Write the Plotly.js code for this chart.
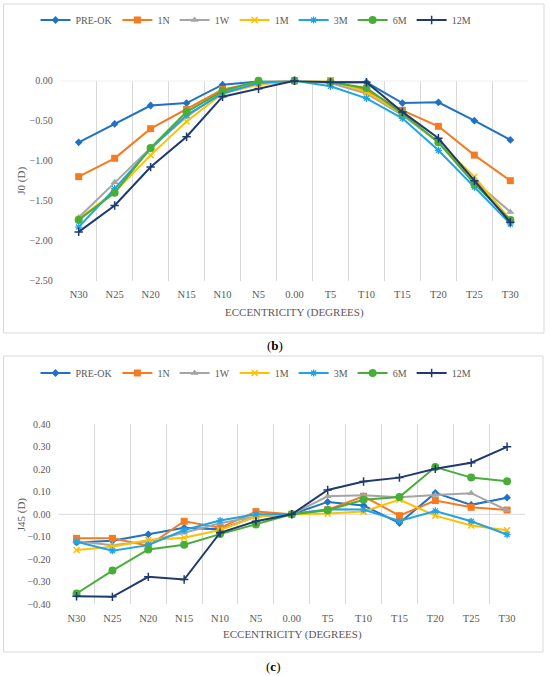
<!DOCTYPE html>
<html>
<head>
<meta charset="utf-8">
<script src="https://cdn.plot.ly/plotly-3.0.1.min.js"></script>
<style>html,body{margin:0;padding:0;background:#fff;}#chart{width:550px;height:676px;}</style>
</head>
<body>
<div id="chart"></div>
<script>
// ---- data ----
const categories = ['N30','N25','N20','N15','N10','N5','0.00','T5','T10','T15','T20','T25','T30'];
const seriesNames = ['PRE-OK','1N','1W','1M','3M','6M','12M'];

// J0 (D)
const j0_preok = [-0.77,-0.54,-0.31,-0.28,-0.05,-0.01,0,-0.02,-0.02,-0.28,-0.27,-0.50,-0.74];
const j0_1n    = [-1.20,-0.97,-0.60,-0.36,-0.11,-0.02,0,0.00,-0.12,-0.37,-0.57,-0.93,-1.25];
const j0_1w    = [-1.71,-1.27,-0.84,-0.45,-0.14,-0.04,0,-0.03,-0.16,-0.43,-0.77,-1.25,-1.64];
const j0_1m    = [-1.73,-1.39,-0.93,-0.51,-0.16,-0.05,0,0.00,-0.14,-0.41,-0.77,-1.20,-1.74];
const j0_3m    = [-1.83,-1.35,-0.85,-0.43,-0.16,-0.03,0,-0.07,-0.22,-0.47,-0.87,-1.33,-1.79];
const j0_6m    = [-1.74,-1.40,-0.84,-0.39,-0.13,0.00,0,-0.02,-0.09,-0.41,-0.77,-1.29,-1.74];
const j0_12m   = [-1.89,-1.56,-1.08,-0.70,-0.20,-0.10,0,-0.02,-0.02,-0.39,-0.72,-1.25,-1.77];

// J45 (D)
const j45_preok = [-0.125,-0.118,-0.089,-0.060,-0.067,-0.010,0,0.055,0.039,-0.039,0.095,0.042,0.074];
const j45_1n    = [-0.107,-0.107,-0.140,-0.031,-0.060,0.012,0,0.020,0.080,-0.006,0.061,0.031,0.019];
const j45_1w    = [-0.120,-0.137,-0.120,-0.082,-0.040,-0.010,0,0.080,0.085,0.076,0.086,0.094,0.018];
const j45_1m    = [-0.159,-0.144,-0.114,-0.104,-0.070,-0.010,0,0.003,0.012,0.065,-0.006,-0.050,-0.071];
const j45_3m    = [-0.122,-0.162,-0.137,-0.070,-0.028,0.000,0,0.022,0.021,-0.030,0.015,-0.031,-0.090];
const j45_6m    = [-0.352,-0.250,-0.156,-0.135,-0.088,-0.045,0,0.018,0.065,0.077,0.210,0.163,0.147];
const j45_12m   = [-0.364,-0.367,-0.278,-0.290,-0.082,-0.031,0,0.108,0.146,0.163,0.202,0.229,0.300];

const yTicksJ0 = [0,-0.5,-1,-1.5,-2,-2.5];
const yTicksJ45 = [0.4,0.3,0.2,0.1,0,-0.1,-0.2,-0.3,-0.4];

// ---- styles ----
const colors = ['#1F72C4','#F47B20','#A5A5A5','#FFC000','#22A3E6','#47AE38','#1F3A6E'];
const markers = [
  {symbol:'diamond', size:6},
  {symbol:'square', size:7},
  {symbol:'triangle-up', size:7},
  {symbol:'x-thin', size:6, lw:1.5},
  {symbol:'asterisk', size:6, lw:1.3},
  {symbol:'circle', size:8},
  {symbol:'cross-thin', size:6, lw:1.5}
];

const W = 550, H = 676;
const px = v => v / W;
const py = v => 1 - v / H;

const j0Data = [j0_preok, j0_1n, j0_1w, j0_1m, j0_3m, j0_6m, j0_12m];
const j45Data = [j45_preok, j45_1n, j45_1w, j45_1m, j45_3m, j45_6m, j45_12m];

function mk(i, ys, xa, ya, leg) {
  const m = markers[i];
  const marker = {symbol: m.symbol, size: m.size, color: colors[i]};
  if (m.lw) marker.line = {color: colors[i], width: m.lw};
  return {
    type: 'scatter', mode: 'lines+markers',
    x: categories, y: ys, xaxis: xa, yaxis: ya,
    name: seriesNames[i], legend: leg,
    line: {color: colors[i], width: 2},
    marker: marker,
    cliponaxis: false
  };
}

const traces = [];
j0Data.forEach((d, i) => traces.push(mk(i, d, 'x', 'y', 'legend')));
j45Data.forEach((d, i) => traces.push(mk(i, d, 'x2', 'y2', 'legend2')));

const serif = 'Liberation Serif, DejaVu Serif, serif';
const tickFont = {family: serif, size: 10, color: '#595959'};
const xTickFont = {family: serif, size: 10.5, color: '#595959'};
const titleFont = {family: serif, size: 11, color: '#595959'};
const gridC = '#D9D9D9';

const xCommon = {
  type: 'category', range: [-0.5, 12.5], tickson: 'boundaries',
  showgrid: true, gridcolor: gridC, gridwidth: 1, showline: false, zeroline: false,
  ticks: '', tickfont: xTickFont, ticklabelstandoff: 6, fixedrange: true
};
const yCommon = {
  showgrid: false, zeroline: false, showline: false, ticks: '',
  tickfont: tickFont, tickformat: '.2f', ticklabelstandoff: 7, fixedrange: true
};

const legendCommon = {
  orientation: 'h', xanchor: 'center', yanchor: 'middle',
  font: {family: serif, size: 10, color: '#595959'},
  bgcolor: 'rgba(0,0,0,0)', itemwidth: 30, tracegroupgap: 0
};

const layout = {
  width: W, height: H,
  margin: {l: 0, r: 0, t: 0, b: 0},
  paper_bgcolor: '#ffffff', plot_bgcolor: 'rgba(0,0,0,0)',
  showlegend: true,
  xaxis: Object.assign({}, xCommon, {domain: [px(60.7), px(528.3)], anchor: 'y'}),
  yaxis: Object.assign({}, yCommon, {domain: [py(280.7), py(80.7)], anchor: 'x', range: [-2.5, 0], tickvals: yTicksJ0}),
  xaxis2: Object.assign({}, xCommon, {domain: [px(58.6), px(525)], anchor: 'y2'}),
  yaxis2: Object.assign({}, yCommon, {domain: [py(604.3), py(424.3)], anchor: 'x2', range: [-0.4, 0.4], tickvals: yTicksJ45}),
  legend: Object.assign({}, legendCommon, {x: px(256), y: py(20)}),
  legend2: Object.assign({}, legendCommon, {x: px(256), y: py(373)}),
  shapes: [
    {type: 'rect', xref: 'paper', yref: 'paper', x0: px(3.5), x1: px(544), y0: py(333), y1: py(4), line: {color: '#D9D9D9', width: 1}, layer: 'below'},
    {type: 'rect', xref: 'paper', yref: 'paper', x0: px(3.5), x1: px(543), y0: py(652), y1: py(356), line: {color: '#D9D9D9', width: 1}, layer: 'below'},
    {type: 'line', xref: 'x domain', yref: 'y', x0: 0, x1: 1, y0: 0, y1: 0, line: {color: '#D9D9D9', width: 1}, layer: 'below'},
    {type: 'line', xref: 'x2 domain', yref: 'y2', x0: 0, x1: 1, y0: 0, y1: 0, line: {color: '#D9D9D9', width: 1}, layer: 'below'}
  ],
  annotations: [
    {text: 'J0 (D)', xref: 'paper', yref: 'paper', x: px(22), y: py(180.7), textangle: -90, showarrow: false, font: titleFont, xanchor: 'center', yanchor: 'middle'},
    {text: 'J45 (D)', xref: 'paper', yref: 'paper', x: px(21), y: py(514.3), textangle: -90, showarrow: false, font: titleFont, xanchor: 'center', yanchor: 'middle'},
    {text: 'ECCENTRICITY (DEGREES)', xref: 'paper', yref: 'paper', x: px(294.5), y: py(312), showarrow: false, font: titleFont, xanchor: 'center', yanchor: 'middle'},
    {text: 'ECCENTRICITY (DEGREES)', xref: 'paper', yref: 'paper', x: px(292), y: py(634), showarrow: false, font: titleFont, xanchor: 'center', yanchor: 'middle'},
    {text: '(<b>b</b>)', xref: 'paper', yref: 'paper', x: px(275), y: py(345), showarrow: false, font: {family: serif, size: 13, color: '#000'}, xanchor: 'center', yanchor: 'middle'},
    {text: '(<b>c</b>)', xref: 'paper', yref: 'paper', x: px(273), y: py(666), showarrow: false, font: {family: serif, size: 13, color: '#000'}, xanchor: 'center', yanchor: 'middle'}
  ]
};

Plotly.newPlot('chart', traces, layout, {displayModeBar: false, staticPlot: true});
</script>
</body>
</html>
